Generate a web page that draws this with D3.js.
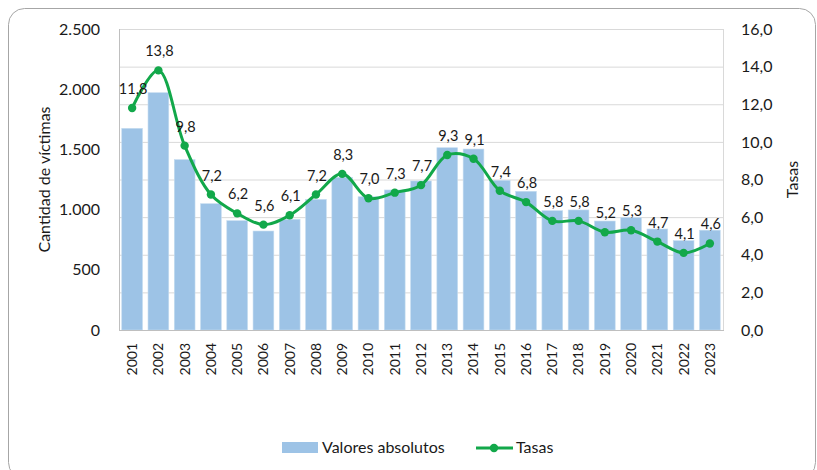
<!DOCTYPE html>
<html><head><meta charset="utf-8">
<script src="https://cdn.jsdelivr.net/npm/d3@7"></script>
<style>body{margin:0;background:#fff}svg{display:block;font-family:Lato,"Open Sans",sans-serif}</style>
</head><body><svg id="c" width="817" height="470"></svg>
<script>
const years = ["2001","2002","2003","2004","2005","2006","2007","2008","2009","2010","2011","2012","2013","2014","2015","2016","2017","2018","2019","2020","2021","2022","2023"];
const absolutes = [1675,1971,1415,1049,908,822,919,1085,1268,1107,1163,1238,1514,1503,1243,1152,991,997,905,933,839,742,829];
const rates = [11.8,13.8,9.8,7.2,6.2,5.6,6.1,7.2,8.3,7.0,7.3,7.7,9.3,9.1,7.4,6.8,5.8,5.8,5.2,5.3,4.7,4.1,4.6];
const leftTicks = [0,500,1000,1500,2000,2500];
const rightTicks = [0,2,4,6,8,10,12,14,16];
const legendLabels = ["Valores absolutos","Tasas"];

const svg = d3.select("#c");
const L=119,R=723,T=29,B=330;
const barColor="#9dc3e6", lineColor="#12a84a", textColor="#1a1a1a";
const fmtL = v => d3.format(",")(v).replace(/,/g,".");
const fmtR = v => v.toFixed(1).replace(".",",");

svg.append("rect").attr("x",8.5).attr("y",8.5).attr("width",807).attr("height",470).attr("rx",16)
  .attr("fill","#fff").attr("stroke","#a6a6a6").attr("stroke-width",1);

const x = d3.scaleBand().domain(years).range([L,R]).paddingInner(0.21).paddingOuter(0.105);
const yL = d3.scaleLinear().domain([0,2500]).range([B,T]);
const yR = d3.scaleLinear().domain([0,16]).range([B,T]);

// gridlines
svg.append("g").selectAll("line").data(rightTicks.slice(1)).join("line")
  .attr("x1",L).attr("x2",R).attr("y1",d=>yR(d)+0.5).attr("y2",d=>yR(d)+0.5)
  .attr("stroke","#d9d9d9").attr("stroke-width",1);
svg.append("line").attr("x1",R+0.5).attr("x2",R+0.5).attr("y1",T).attr("y2",B).attr("stroke","#d9d9d9");

// bars
svg.append("g").selectAll("rect").data(absolutes).join("rect")
  .attr("x",(d,i)=>x(years[i])).attr("width",x.bandwidth())
  .attr("y",d=>yL(d)).attr("height",d=>B-yL(d))
  .attr("fill",barColor).attr("stroke","#c5dcf0").attr("stroke-width",0.6);

// axes lines
svg.append("line").attr("x1",L+0.5).attr("x2",L+0.5).attr("y1",T).attr("y2",B).attr("stroke","#bfbfbf");
svg.append("line").attr("x1",L).attr("x2",R+1).attr("y1",B+0.5).attr("y2",B+0.5).attr("stroke","#bfbfbf");

// left axis labels
const gl = svg.append("g").attr("transform",`translate(${L},0)`)
  .call(d3.axisLeft(yL).tickValues(leftTicks).tickFormat(fmtL).tickSize(0).tickPadding(19));
gl.select(".domain").remove();
gl.selectAll("text").attr("font-size",16).attr("fill",textColor).attr("font-family","Lato");

// right axis labels
const gr = svg.append("g").attr("transform",`translate(${R},0)`)
  .call(d3.axisRight(yR).tickValues(rightTicks).tickFormat(fmtR).tickSize(0).tickPadding(18));
gr.select(".domain").remove();
gr.selectAll("text").attr("font-size",16).attr("fill",textColor).attr("font-family","Lato");

// x axis labels
const gx = svg.append("g").attr("transform",`translate(0,${B})`)
  .call(d3.axisBottom(x).tickSize(0));
gx.select(".domain").remove();
gx.selectAll("text").attr("font-size",14).attr("fill",textColor).attr("font-family","Lato")
  .attr("text-anchor","end").attr("transform","rotate(-90)").attr("x",-13).attr("y",0).attr("dy","0.35em");

// axis titles
svg.append("text").attr("transform",`translate(50,${(T+B)/2}) rotate(-90)`).attr("text-anchor","middle")
  .attr("font-size",16).attr("fill",textColor).text("Cantidad de víctimas");
svg.append("text").attr("transform",`translate(798,${(T+B)/2}) rotate(-90)`).attr("text-anchor","middle")
  .attr("font-size",16).attr("fill",textColor).text("Tasas");

// line
const cx = i => x(years[i]) + x.bandwidth()/2;
const line = d3.line().x((d,i)=>cx(i)).y(d=>yR(d)).curve(d3.curveCatmullRom.alpha(0.5));
svg.append("path").datum(rates).attr("d",line).attr("fill","none").attr("stroke",lineColor).attr("stroke-width",3);
svg.append("g").selectAll("circle").data(rates).join("circle")
  .attr("cx",(d,i)=>cx(i)).attr("cy",d=>yR(d)).attr("r",4.2).attr("fill",lineColor);

// data labels
svg.append("g").selectAll("text").data(rates).join("text")
  .attr("x",(d,i)=>cx(i)+1).attr("y",d=>yR(d)-14).attr("text-anchor","middle")
  .attr("font-size",14.5).attr("fill",textColor).text(d=>fmtR(d));

// legend
const lg = svg.append("g");
lg.append("rect").attr("x",282).attr("y",442).attr("width",36).attr("height",11).attr("fill",barColor);
lg.append("text").attr("x",322).attr("y",453).attr("font-size",16).attr("fill",textColor).text(legendLabels[0]);
lg.append("line").attr("x1",476).attr("x2",513).attr("y1",448).attr("y2",448).attr("stroke",lineColor).attr("stroke-width",3);
lg.append("circle").attr("cx",494).attr("cy",448).attr("r",4.2).attr("fill",lineColor);
lg.append("text").attr("x",516).attr("y",453).attr("font-size",16).attr("fill",textColor).text(legendLabels[1]);
</script></body></html>
